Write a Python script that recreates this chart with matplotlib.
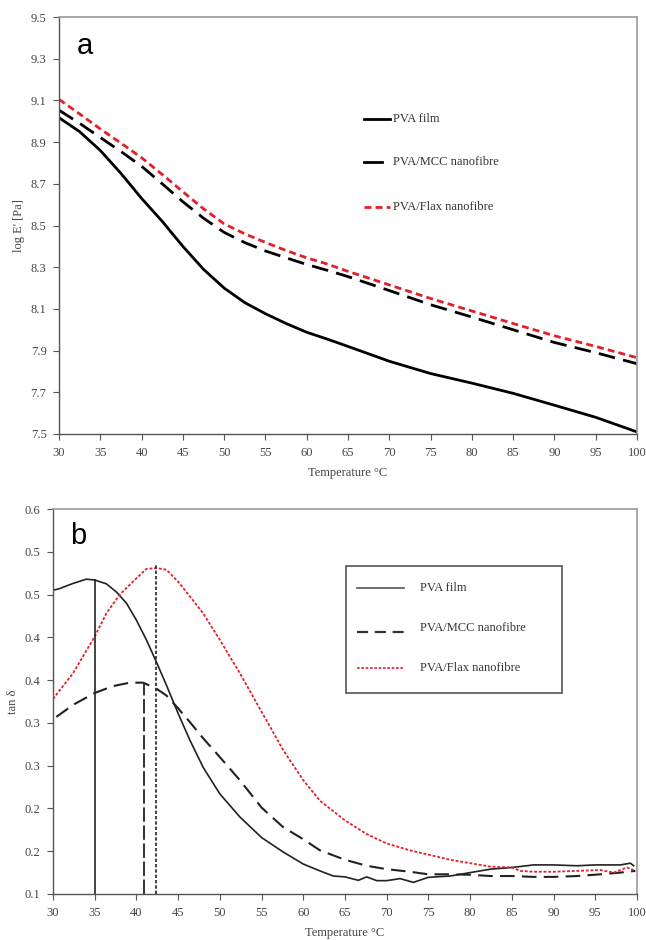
import matplotlib
matplotlib.use("Agg")
import matplotlib.pyplot as plt
import numpy as np

# ---------------- Panel a : log E' ----------------
temp_a = [30, 32.5, 35, 37.5, 40, 42.5, 45, 47.5, 50, 52.5, 55, 57.5, 60, 62.5, 65,
          70, 75, 80, 85, 90, 95, 100]
film_a = [9.017, 8.95, 8.86, 8.75, 8.63, 8.52, 8.40, 8.29, 8.20, 8.13, 8.077, 8.03, 7.988, 7.955, 7.92,
          7.849, 7.79, 7.744, 7.695, 7.638, 7.58, 7.51]
mcc_a = [9.053, 8.99, 8.922, 8.855, 8.784, 8.70, 8.614, 8.535, 8.467, 8.418, 8.378, 8.345, 8.313, 8.285, 8.255,
         8.188, 8.12, 8.061, 8.00, 7.939, 7.89, 7.837]
flax_a = [9.105, 9.035, 8.963, 8.895, 8.825, 8.745, 8.662, 8.58, 8.508, 8.46, 8.419, 8.38, 8.345, 8.315, 8.28,
          8.215, 8.15, 8.09, 8.03, 7.971, 7.92, 7.866]

# ---------------- Panel b : tan delta ----------------
temp_film_b = [30, 30.8, 32.4, 34, 35, 36.4, 37.6, 38.8, 40, 41.2, 42.4, 43.6, 45, 46.4, 48, 50,
               52.4, 55, 57.6, 60, 62, 63.6, 65, 66.6, 67.6, 68.8, 70, 71.6, 73.2, 75, 77.6,
               80, 82.4, 85, 87.6, 90, 92.8, 95, 98, 99.2, 99.6]
film_b = [0.455, 0.457, 0.463, 0.468, 0.467, 0.4625, 0.453, 0.44, 0.42, 0.397, 0.371, 0.344, 0.311,
          0.28, 0.248, 0.217, 0.19, 0.166, 0.149, 0.135, 0.127, 0.121, 0.12, 0.116, 0.12, 0.1156,
          0.1156, 0.118, 0.1136, 0.1195, 0.121, 0.125, 0.129, 0.131, 0.134, 0.134, 0.133, 0.134,
          0.134, 0.136, 0.133]

temp_mcc_b = [30.4, 32.4, 35, 37.2, 39.2, 40.8, 42.4, 43.6, 45, 46.4, 48, 50, 52.4, 55, 57.6, 60,
              62, 65, 67.6, 70, 72.8, 75, 77.6, 80, 82.4, 85, 87.6, 90, 92.8, 95.6, 98, 99.8]
mcc_b = [0.307, 0.321, 0.335, 0.343, 0.347, 0.347, 0.34, 0.332, 0.317, 0.301, 0.282, 0.26, 0.233,
         0.201, 0.178, 0.164, 0.151, 0.14, 0.133, 0.129, 0.126, 0.123, 0.123, 0.1225, 0.121, 0.121,
         0.12, 0.12, 0.121, 0.123, 0.125, 0.127]

temp_flax_b = [30, 32.4, 35, 36.4, 38, 40, 41.2, 42.4, 43.6, 45, 46.4, 48, 50, 52.4, 55, 57.6, 60,
               62, 65, 67.6, 70, 72.8, 75, 77.6, 80, 82.4, 85, 86, 87.6, 90, 92.8, 95.6, 97.2,
               98.8, 99.8]
flax_b = [0.328, 0.358, 0.401, 0.428, 0.45, 0.469, 0.48, 0.481, 0.479, 0.465, 0.448, 0.428, 0.397,
          0.358, 0.313, 0.268, 0.233, 0.209, 0.186, 0.17, 0.159, 0.151, 0.146, 0.14, 0.136, 0.132,
          0.131, 0.127, 0.126, 0.126, 0.127, 0.128, 0.125, 0.131, 0.127]

# peak markers (temperature, tan delta at peak)
peak_temps = [35, 40.9, 42.4]
peak_vals = [0.467, 0.345, 0.485]

xticks = list(range(30, 101, 5))
yticks_a = [7.5, 7.7, 7.9, 8.1, 8.3, 8.5, 8.7, 8.9, 9.1, 9.3, 9.5]
yticks_b = [0.1, 0.15, 0.2, 0.25, 0.3, 0.35, 0.4, 0.45, 0.5, 0.55]
yticklabels_b = ["0.1", "0.2", "0.2", "0.3", "0.3", "0.4", "0.4", "0.5", "0.5", "0.6"]

labels = ["PVA film", "PVA/MCC nanofibre", "PVA/Flax nanofibre"]

RED = "#e3202a"
SERIF = ["Liberation Serif", "DejaVu Serif"]
TICKC = "#444444"

fig = plt.figure(figsize=(6.46, 9.40), dpi=100)
W, H = 646.0, 940.0


def style_axes(ax):
    for s in ["top", "right"]:
        ax.spines[s].set_color("#9a9a9a")
        ax.spines[s].set_linewidth(1.2)
    for s in ["left", "bottom"]:
        ax.spines[s].set_color("#555555")
        ax.spines[s].set_linewidth(1.0)
    ax.tick_params(direction="out", length=4, width=0.8, color="#555555",
                   labelsize=9, labelcolor=TICKC, pad=5)
    for lab in ax.get_xticklabels() + ax.get_yticklabels():
        lab.set_family(SERIF)


# ---- panel a ----
axa = fig.add_axes([59 / W, 1 - 434 / H, (637 - 59) / W, (434 - 17) / H])
axa.plot(temp_a, film_a, color="black", lw=2.0, solid_joinstyle="round")
axa.plot(temp_a, mcc_a, color="black", lw=2.0, dashes=(6, 3))
axa.plot(temp_a, flax_a, color=RED, lw=2.0, dashes=(2.5, 1.5))
axa.set_xlim(30, 100)
axa.set_ylim(7.5, 9.5)
axa.set_xticks(xticks)
axa.set_yticks(yticks_a)
axa.set_yticklabels([f"{v:.1f}" for v in yticks_a])
style_axes(axa)
axa.set_xlabel("Temperature °C", family=SERIF, fontsize=9, color=TICKC, labelpad=6)
axa.set_ylabel("log E' [Pa]", family=SERIF, fontsize=9, color=TICKC, labelpad=4)
axa.text(0.03, 0.965, "a", transform=axa.transAxes, fontsize=21,
         family=["Liberation Sans", "DejaVu Sans"], va="top", ha="left")


def fx(px):
    return px / W


def fy(py):
    return 1 - py / H


# legend a (manual, like the original)
leg_y = [119, 162, 207]
fig.add_artist(plt.Line2D([fx(364), fx(390)], [fy(leg_y[0])] * 2, color="black", lw=2.0))
fig.add_artist(plt.Line2D([fx(364), fx(382)], [fy(leg_y[1])] * 2, color="black", lw=2.0))
fig.add_artist(plt.Line2D([fx(364), fx(390)], [fy(leg_y[2])] * 2, color=RED, lw=2.0,
                          dashes=(2.5, 1.5)))
for lab, yy in zip(labels, leg_y):
    fig.text(fx(393), fy(yy), lab, family=SERIF, fontsize=9, color="#333333", va="center")

# ---- panel b ----
axb = fig.add_axes([53 / W, 1 - 894 / H, (637 - 53) / W, (894 - 509) / H])
axb.plot(temp_film_b, film_b, color="#222222", lw=1.2)
axb.plot(temp_mcc_b, mcc_b, color="#222222", lw=1.5, dashes=(7, 3.5))
axb.plot(temp_flax_b, flax_b, color=RED, lw=1.3, dashes=(1.6, 1.0))
axb.plot([peak_temps[0]] * 2, [0.1, peak_vals[0]], color="#222222", lw=1.2)
axb.plot([peak_temps[1]] * 2, [0.1, peak_vals[1]], color="#222222", lw=1.3, dashes=(8, 2))
axb.plot([peak_temps[2]] * 2, [0.1, peak_vals[2]], color="#222222", lw=1.2, dashes=(2, 1.2))
axb.set_xlim(30, 100)
axb.set_ylim(0.1, 0.55)
axb.set_xticks(xticks)
axb.set_yticks(yticks_b)
axb.set_yticklabels(yticklabels_b)
style_axes(axb)
axb.set_xlabel("Temperature °C", family=SERIF, fontsize=9, color=TICKC, labelpad=6)
axb.set_ylabel("tan δ", family=SERIF, fontsize=9, color=TICKC, labelpad=4)
axb.text(0.03, 0.965, "b", transform=axb.transAxes, fontsize=21,
         family=["Liberation Sans", "DejaVu Sans"], va="top", ha="left")

# legend b box
box = plt.Rectangle((fx(346), fy(693)), fx(562) - fx(346), fy(566) - fy(693),
                    transform=fig.transFigure, fill=False, edgecolor="#555555", lw=1.2)
fig.add_artist(box)
legb_y = [588, 628, 668]
fig.add_artist(plt.Line2D([fx(357), fx(404)], [fy(legb_y[0])] * 2, color="#555555", lw=1.2))
fig.add_artist(plt.Line2D([fx(357), fx(404)], [fy(legb_y[1] + 4)] * 2, color="#333333", lw=1.6,
                          dashes=(5, 3)))
fig.add_artist(plt.Line2D([fx(357), fx(404)], [fy(legb_y[2])] * 2, color=RED, lw=1.2,
                          dashes=(1.6, 1.0)))
for lab, yy in zip(labels, legb_y):
    fig.text(fx(420), fy(yy), lab, family=SERIF, fontsize=9, color="#333333", va="center")

fig.savefig("out.png", dpi=100)
